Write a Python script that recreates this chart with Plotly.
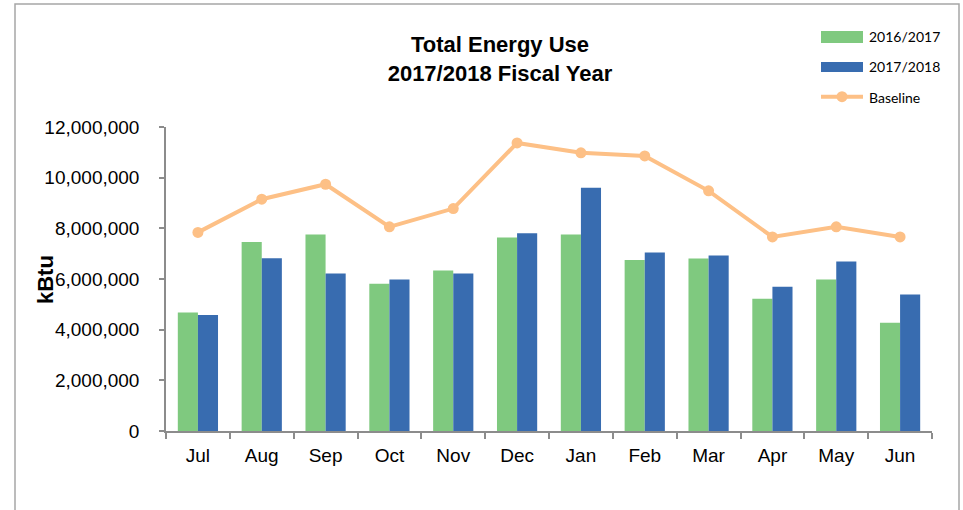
import plotly.graph_objects as go

months = ["Jul", "Aug", "Sep", "Oct", "Nov", "Dec", "Jan", "Feb", "Mar", "Apr", "May", "Jun"]
fy2016_2017 = [4680000, 7460000, 7760000, 5810000, 6340000, 7640000, 7760000, 6750000, 6810000, 5220000, 5980000, 4270000]
fy2017_2018 = [4580000, 6820000, 6220000, 5980000, 6220000, 7810000, 9600000, 7050000, 6930000, 5690000, 6690000, 5390000]
baseline = [7840000, 9150000, 9740000, 8060000, 8780000, 11370000, 10980000, 10860000, 9480000, 7660000, 8060000, 7660000]
y_ticks = [0, 2000000, 4000000, 6000000, 8000000, 10000000, 12000000]
legend_names = ["2016/2017", "2017/2018", "Baseline"]

GREEN = "#7FC97F"
BLUE = "#386CB0"
ORANGE = "#FDC086"
AXIS = "#8C8C8C"

W, H = 963, 510
L, R, T, B = 166, 31, 127, 79
PW, PH = W - L - R, H - T - B


def px(x):
    return (x - L) / PW


def py(y):
    return (H - B - y) / PH


fig = go.Figure()
fig.add_trace(go.Bar(x=months, y=fy2016_2017, name=legend_names[0], marker=dict(color=GREEN, line_width=0)))
fig.add_trace(go.Bar(x=months, y=fy2017_2018, name=legend_names[1], marker=dict(color=BLUE, line_width=0)))
fig.add_trace(go.Scatter(x=months, y=baseline, name=legend_names[2], mode="lines+markers",
                         line=dict(color=ORANGE, width=4), marker=dict(color=ORANGE, size=11)))

shapes = [
    # outer chart border
    dict(type="rect", xref="paper", yref="paper", x0=px(15), x1=px(959), y0=py(530), y1=py(4),
         line=dict(color="#A6A6A6", width=1.5), fillcolor="rgba(0,0,0,0)", layer="below"),
    # legend swatches
    dict(type="rect", xref="paper", yref="paper", x0=px(821), x1=px(863), y0=py(43), y1=py(31),
         line_width=0, fillcolor=GREEN),
    dict(type="rect", xref="paper", yref="paper", x0=px(821), x1=px(863), y0=py(72), y1=py(62),
         line_width=0, fillcolor=BLUE),
    dict(type="line", xref="paper", yref="paper", x0=px(821), x1=px(863), y0=py(96.7), y1=py(96.7),
         line=dict(color=ORANGE, width=4)),
    dict(type="circle", xref="paper", yref="paper", x0=px(836.5), x1=px(847.5), y0=py(102.2), y1=py(91.2),
         line_width=0, fillcolor=ORANGE),
]

annotations = [
    dict(text="kBtu", xref="paper", yref="paper", x=px(45), y=0.5, textangle=-90, showarrow=False,
         font=dict(family="Liberation Sans, Arial", size=22, color="black", weight="bold"),
         xanchor="center", yanchor="middle"),
]
for name, yy in zip(legend_names, [36.7, 66.7, 97.5]):
    annotations.append(dict(text=name, xref="paper", yref="paper", x=px(867), y=py(yy), showarrow=False,
                            xanchor="left", yanchor="middle",
                            font=dict(family="Lato, Carlito, Calibri, sans-serif", size=14, color="black")))

fig.update_layout(
    width=W, height=H,
    margin=dict(l=L, r=R, t=T, b=B, pad=0),
    paper_bgcolor="white", plot_bgcolor="white",
    showlegend=False,
    barmode="group", bargap=0.37, bargroupgap=0,
    title=dict(text="<b>Total Energy Use<br>2017/2018 Fiscal Year</b>", xref="container", yref="container",
               x=500 / W, y=1 - 52 / H, xanchor="center", yanchor="middle",
               font=dict(family="Liberation Sans, Arial", size=22, color="black")),
    font=dict(family="Liberation Sans, Arial", color="black"),
    shapes=shapes,
    annotations=annotations,
)
fig.update_xaxes(range=[-0.5, len(months) - 0.5], showline=True, linecolor=AXIS, linewidth=1.5,
                 ticks="outside", tickson="boundaries", ticklen=6, tickcolor=AXIS, tickwidth=1.5,
                 showgrid=False, tickfont=dict(size=19), ticklabelstandoff=6)
fig.update_yaxes(range=[0, 12000000], tickvals=y_ticks, tickformat=",", showline=True, linecolor=AXIS,
                 linewidth=1.5, ticks="outside", ticklen=5, tickcolor=AXIS, tickwidth=1.5, showgrid=False,
                 zeroline=False, tickfont=dict(size=19), ticklabelstandoff=16)

fig.write_html("out.html", config={"displayModeBar": False})

# remove the browser's default page margin so the figure sits at the window origin
with open("out.html", encoding="utf-8") as f:
    html = f.read()
html = html.replace("<head>", "<head><style>html,body{margin:0;padding:0;overflow:hidden;}</style>", 1)
with open("out.html", "w", encoding="utf-8") as f:
    f.write(html)
